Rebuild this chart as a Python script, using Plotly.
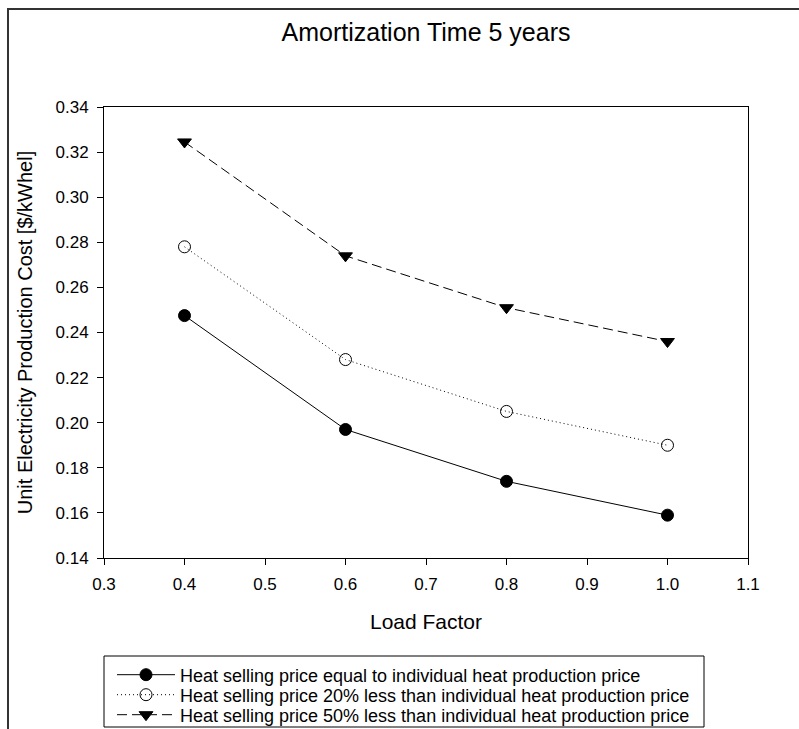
import plotly.graph_objects as go

load_factor = [0.4, 0.6, 0.8, 1.0]
cost_equal = [0.2475, 0.197, 0.174, 0.159]
cost_20less = [0.278, 0.228, 0.205, 0.190]
cost_50less = [0.3245, 0.274, 0.251, 0.236]
series_names = [
    "Heat selling price equal to individual heat production price",
    "Heat selling price 20% less than individual heat production price",
    "Heat selling price 50% less than individual heat production price",
]
x_ticks = [0.3, 0.4, 0.5, 0.6, 0.7, 0.8, 0.9, 1.0, 1.1]
y_ticks = [0.14, 0.16, 0.18, 0.20, 0.22, 0.24, 0.26, 0.28, 0.30, 0.32, 0.34]

W, H = 799, 729
L, R, T, B = 104, 748, 107, 558
pw, ph = R - L, B - T

def px(x):
    return (x - L) / pw

def py(y):
    return (B - y) / ph

FONT = "Liberation Sans, Arial, sans-serif"
LEG_FONT = dict(family=FONT, size=18, color="black")

fig = go.Figure()
fig.add_trace(go.Scatter(
    x=load_factor, y=cost_equal, name=series_names[0], mode="lines+markers", legend="legend",
    line=dict(color="black", width=1, dash="solid"),
    marker=dict(symbol="circle", size=12, color="black", line=dict(color="black", width=1)),
))
fig.add_trace(go.Scatter(
    x=load_factor, y=cost_20less, name=series_names[1], mode="lines+markers", legend="legend2",
    line=dict(color="black", width=1, dash="1px,3px"),
    marker=dict(symbol="circle-open", size=12, color="black", line=dict(color="black", width=1)),
))
fig.add_trace(go.Scatter(
    x=load_factor, y=cost_50less, name=series_names[2], mode="lines+markers", legend="legend3",
    line=dict(color="black", width=1, dash="10px,5px"),
    marker=dict(symbol="triangle-down", size=12, color="black", line=dict(color="black", width=1)),
))

axis_common = dict(
    showgrid=False, zeroline=False, showline=True, linecolor="black", linewidth=1,
    mirror=True, ticks="outside", ticklen=6, tickcolor="black", tickwidth=1,
    tickfont=dict(family=FONT, size=17, color="black"), ticklabelstandoff=5,
)
fig.update_xaxes(range=[0.3, 1.1], tickvals=x_ticks, ticktext=[f"{v:.1f}" for v in x_ticks],
                 title=dict(text="Load Factor", font=dict(family=FONT, size=21, color="black"), standoff=20),
                 **axis_common)
fig.update_yaxes(range=[0.14, 0.34], tickvals=y_ticks, ticktext=[f"{v:.2f}" for v in y_ticks],
                 title=dict(text="Unit Electricity Production Cost [$/kWhel]",
                            font=dict(family=FONT, size=20, color="black"), standoff=17),
                 **axis_common)

shapes = [
    dict(type="rect", xref="paper", yref="paper", x0=px(8), y0=py(760), x1=px(830), y1=py(9),
         line=dict(color="#333333", width=2), fillcolor="rgba(0,0,0,0)", layer="below"),
    dict(type="rect", xref="paper", yref="paper", x0=px(104), y0=py(727), x1=px(704), y1=py(656),
         line=dict(color="black", width=1), fillcolor="rgba(0,0,0,0)"),
]

def leg(ycenter):
    return dict(x=px(112), y=py(ycenter), xanchor="left", yanchor="middle",
                bgcolor="rgba(0,0,0,0)", borderwidth=0, itemwidth=58, font=LEG_FONT)

fig.update_layout(
    width=W, height=H,
    margin=dict(l=L, r=W - R, t=T, b=H - B, autoexpand=False),
    paper_bgcolor="white", plot_bgcolor="white",
    title=dict(text="Amortization Time 5 years", x=(L + R) / 2 / W, xanchor="center",
               y=1 - 32 / H, yanchor="middle",
               font=dict(family=FONT, size=25, color="black")),
    showlegend=True,
    legend=leg(675), legend2=leg(695), legend3=leg(715),
    shapes=shapes,
)

fig.write_html("out.html")
